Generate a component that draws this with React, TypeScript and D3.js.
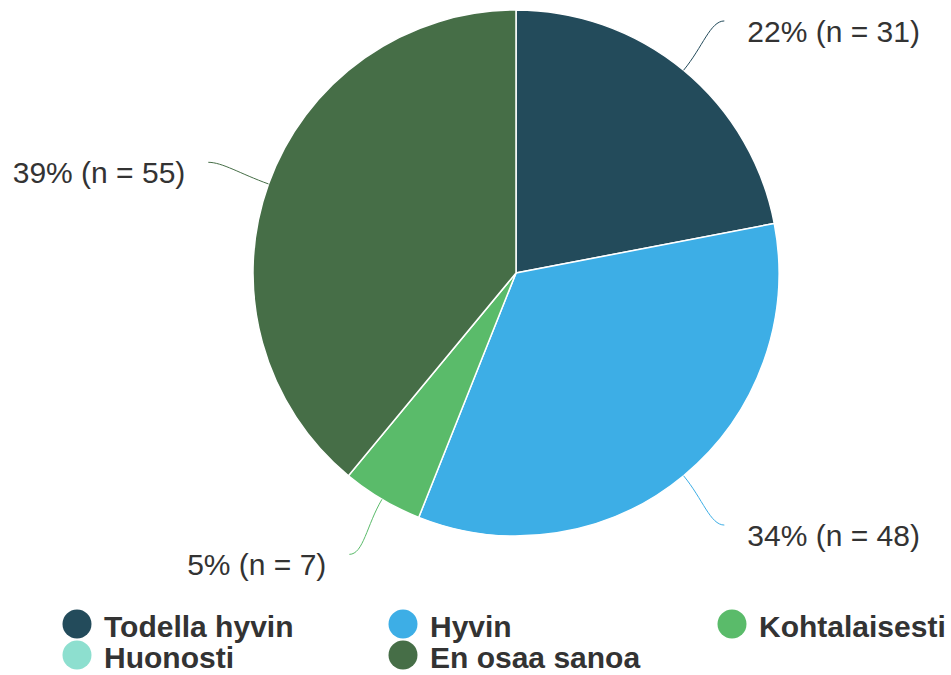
import { useEffect, useRef } from "react";
import * as d3 from "d3";

const categories = ["Todella hyvin", "Hyvin", "Kohtalaisesti", "Huonosti", "En osaa sanoa"];
const counts = [31, 48, 7, 0, 55];
const colors = ["#234b5b", "#3daee6", "#5abb6a", "#8ddfcf", "#466e47"];

type Slice = { name: string; n: number; color: string };

export default function App() {
  const ref = useRef<SVGSVGElement | null>(null);

  useEffect(() => {
    const width = 951,
      height = 675;
    const cx = 516,
      cy = 273,
      r = 263;
    const svg = d3.select(ref.current);
    svg.selectAll("*").remove();

    const data: Slice[] = categories.map((name, i) => ({ name, n: counts[i], color: colors[i] }));
    const total = d3.sum(data, d => d.n);

    const pie = d3
      .pie<Slice>()
      .value(d => d.n)
      .sort(null);
    const arcs = pie(data);
    const arc = d3.arc<d3.PieArcDatum<Slice>>().innerRadius(0).outerRadius(r);

    const g = svg.append("g").attr("transform", `translate(${cx},${cy})`);

    // Slices
    g.selectAll("path.slice")
      .data(arcs.filter(d => d.data.n > 0))
      .enter()
      .append("path")
      .attr("class", "slice")
      .attr("d", arc)
      .attr("fill", d => d.data.color)
      .attr("stroke", "#fff")
      .attr("stroke-width", 1.5);

    // Leader lines + labels
    const polar = (rad: number, a: number) => [rad * Math.sin(a), -rad * Math.cos(a)];
    const labelled = arcs.filter(d => d.data.n > 0);

    labelled.forEach(d => {
      const mid = (d.startAngle + d.endAngle) / 2;
      const side = Math.sin(mid) >= 0 ? 1 : -1;
      const [x0, y0] = polar(r, mid);
      const [c1x, c1y] = polar(r + 30, mid);
      const [ex, ey] = polar(r + 64, mid);
      const path = d3.path();
      path.moveTo(x0, y0);
      path.bezierCurveTo(c1x, c1y, ex - side * 14, ey, ex, ey);
      g.append("path")
        .attr("d", path.toString())
        .attr("fill", "none")
        .attr("stroke", d.data.color)
        .attr("stroke-width", 1);

      const pct = Math.round((d.data.n / total) * 100);
      g.append("text")
        .attr("x", ex + side * 23)
        .attr("y", ey + 21)
        .attr("text-anchor", side > 0 ? "start" : "end")
        .attr("font-family", "'Liberation Sans', Arial, sans-serif")
        .attr("font-size", 30)
        .attr("fill", "#333")
        .text(`${pct}% (n = ${d.data.n})`);
    });

    // Legend
    const cols = [77, 403, 732];
    const rows = [624, 655];
    const legend = svg
      .selectAll("g.legend")
      .data(data)
      .enter()
      .append("g")
      .attr("class", "legend")
      .attr("transform", (_d, i) => `translate(${cols[i % 3]},${rows[Math.floor(i / 3)]})`);

    legend.append("circle").attr("r", 14.5).attr("fill", d => d.color);
    legend
      .append("text")
      .attr("x", 27)
      .attr("y", 13)
      .attr("font-family", "'Liberation Sans', Arial, sans-serif")
      .attr("font-weight", "bold")
      .attr("font-size", 30)
      .attr("fill", "#333")
      .text(d => d.name);

    svg.attr("width", width).attr("height", height);
  }, []);

  return (
    <svg
      ref={ref}
      width={951}
      height={675}
      style={{ position: "absolute", left: 0, top: 0, background: "#fff" }}
    />
  );
}
